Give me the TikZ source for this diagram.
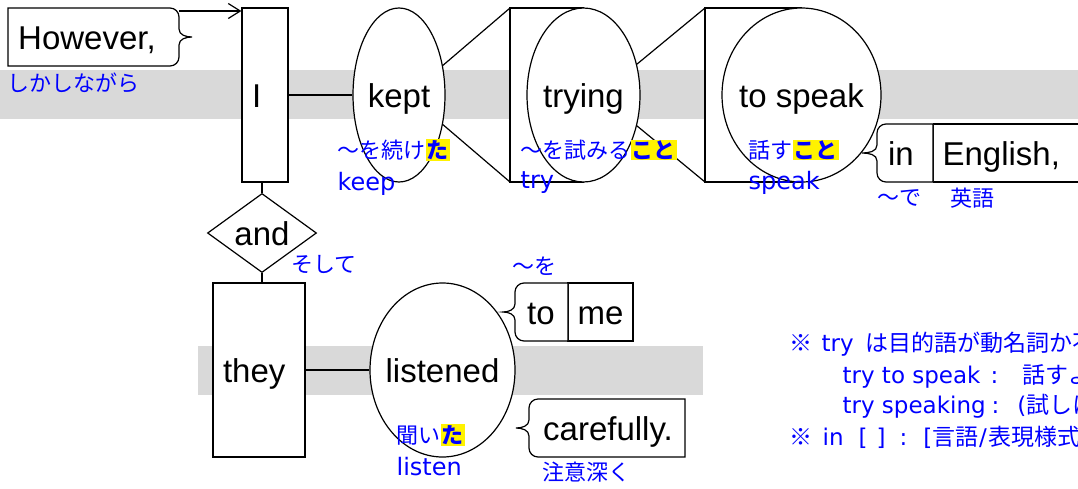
\documentclass[tikz,border=0pt]{standalone}
\usepackage{fontspec}
\setmainfont{Liberation Sans}
\newfontfamily\jp{Noto Sans CJK JP}
\newfontfamily\lat{DejaVu Sans}
\usetikzlibrary{arrows.meta,shapes.geometric}
\definecolor{band}{RGB}{217,217,217}
\definecolor{jblue}{RGB}{0,0,255}
\newcommand{\hilite}[1]{{\setlength{\fboxsep}{1pt}\colorbox{yellow}{\bfseries #1}}}
\newcommand{\en}[1]{{\lat\fontsize{23}{27}\selectfont #1}}
% brace frame opening to the left: side x, tip x, top, bottom, right x
\newcommand{\braceframe}[5]{%
  \draw[fill=white] (#5,#3) -- ({#1+9},#3) to[out=180,in=90] (#1,{#3+9})
    -- (#1,{(#3+#4)/2-8}) to[out=-90,in=0] (#2,{(#3+#4)/2})
    to[out=0,in=90] (#1,{(#3+#4)/2+8}) -- (#1,{#4-9})
    to[out=-90,in=180] ({#1+9},#4) -- (#5,#4) -- cycle;}

\begin{document}
\begin{tikzpicture}[x=1pt, y=-1pt, line width=1.2pt,
    word/.style={font=\fontsize{33}{36}\selectfont, text height=24pt, text depth=0pt, inner sep=0pt},
    stem/.style={word, draw, fill=white, inner xsep=10pt, align=left, minimum height=174},
    verb/.style={word, ellipse, draw, fill=white, inner xsep=-8pt, minimum height=174},
    conj/.style={word, diamond, draw, fill=white, minimum width=109, minimum height=64},
    cell/.style={word, rectangle, draw, fill=white, minimum height=58},
    jlbl/.style={anchor=west, inner sep=0pt, text=jblue, font=\jp\fontsize{22}{26}\selectfont},
    elbl/.style={anchor=west, inner sep=0pt, text=jblue, font=\lat\fontsize{24}{28}\selectfont},
    note/.style={jlbl, font=\jp\fontsize{23}{27}\selectfont},
    arr/.style={-{Straight Barb[length=12pt,width=15pt]}},
]
    \useasboundingbox (0,0) rectangle (1078,488);
    \clip (0,0) rectangle (1078,488);

    % base lines
    \fill[band] (0,70) rectangle (1078,119);
    \fill[band] (198,346) rectangle (703,395);

    % pedestals
    \coordinate (tryTop) at (510,8);
    \coordinate (tryBot) at (510,182);
    \coordinate (spkTop) at (705,8);
    \coordinate (spkBot) at (705,182);
    \filldraw[fill=white] (583.5,8) -- (tryTop) -- (tryBot) -- (583.5,182);
    \filldraw[fill=white] (801.5,8) -- (spkTop) -- (spkBot) -- (801.5,182);

    \node[stem, minimum width=46, text width=26pt] (I) at (265,95) {I};
    \node[verb, minimum width=92] (kept) at (399,95) {kept};
    \node[verb, minimum width=113] (trying) at (583.5,95) {trying};
    \node[verb, minimum width=159] (speak) at (801.5,95) {to speak};
    \node[conj] (and) at (262,233) {and};
    \node[stem, minimum width=92, text width=72pt] (they) at (259,370) {they};
    \node[verb, minimum width=145] (listened) at (442.5,370) {listened};

    % However,
    \draw[fill=white] (8,8) -- (170,8) to[out=0,in=90] (179,17) -- (179,29)
        to[out=-90,in=180] (192,37) to[out=180,in=90] (179,45) -- (179,57)
        to[out=-90,in=0] (170,66) -- (8,66) -- cycle;
    \node[word] (however) at (87,37) {However,};
    \coordinate (hwEnd) at (179,11);

    % modifiers
    \node[cell, anchor=west, minimum width=160, text width=142pt, inner xsep=9pt, align=left] (English) at (933,153) {English,};
    \braceframe{877}{862}{124}{182}{933}
    \node[word] (in) at (901,153) {in};

    \node[cell, minimum width=65] (me) at (600.5,312) {me};
    \braceframe{515}{503}{283}{341}{568}
    \node[word] (to) at (541,312) {to};

    \braceframe{529}{516}{399}{457}{685}
    \node[word] (carefully) at (608,428) {carefully.};

    \draw[arr] (hwEnd) -- (hwEnd -| I.west);
    \draw (I.east) -- (kept.west);
    \draw (kept.34) -- (tryTop);
    \draw (kept.-34) -- (tryBot);
    \draw (trying.30) -- (spkTop);
    \draw (trying.-30) -- (spkBot);
    \draw (and.north) -- (and.north |- I.south);
    \draw (and.south) -- (and.south |- they.north);
    \draw (they.east) -- (listened.west);

    % glosses
    \node[jlbl] (shikashi) at (7,83) {しかしながら};
    \node[jlbl] (keptJ) at (337,150) {〜を続け\hilite{た}};
    \node[elbl] (keptE) at (337,184) {keep};
    \node[jlbl] (tryJ) at (520,150) {〜を試みる\hilite{こと}};
    \node[elbl] (tryE) at (520,183) {try};
    \node[jlbl] (speakJ) at (748,150) {話す\hilite{こと}};
    \node[elbl] (speakE) at (748,183) {speak};
    \node[jlbl] (inJ) at (877,198) {〜で};
    \node[jlbl] (englishJ) at (950,198) {英語};
    \node[jlbl] (andJ) at (291,265) {そして};
    \node[jlbl] (toJ) at (512,266) {〜を};
    \node[jlbl] (listenedJ) at (396,435) {聞い\hilite{た}};
    \node[elbl] (listenedE) at (396,467) {listen};
    \node[jlbl] (carefullyJ) at (542,472) {注意深く};

    % notes
    \node[note] (note1) at (789,344) {※\hspace{9pt}\en{try}\hspace{12pt}は目的語が動名詞か不定詞かで意味が変わる};
    \node[note] (note2) at (842,376) {\en{try to speak}\hspace{10pt}\en{:}\hspace{24pt}話すよう努力する};
    \node[note] (note3) at (842,406) {\en{try speaking}\hspace{6pt}\en{:}\hspace{18pt}\en{(}試しに\en{)}話してみる};
    \node[note] (note4) at (789,437) {※\hspace{10pt}\en{in}\hspace{15pt}\en{[}\hspace{9pt}\en{]}\hspace{14pt}\en{:}\hspace{16pt}\en{[}言語\hspace{1pt}\en{/}\hspace{2pt}表現様式\en{]}で};
\end{tikzpicture}
\end{document}
